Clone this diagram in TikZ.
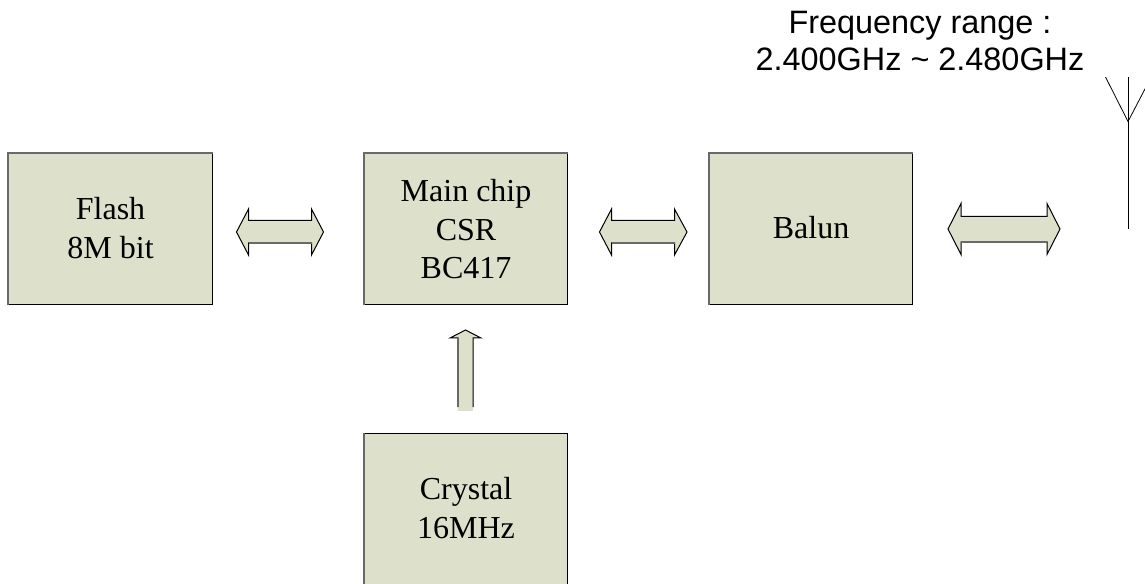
\documentclass[tikz,border=0pt]{standalone}
\usepackage{fontspec}
\setmainfont{Liberation Serif}
\newfontfamily\labelsans{Liberation Sans}
\definecolor{blockfill}{RGB}{221,224,203}
\definecolor{softedge}{RGB}{105,105,105}
\tikzset{
  px/.style={x=0.75pt,y=-0.75pt},
  block/.style={draw=black,line width=0.8pt,fill=blockfill,anchor=north west,inner sep=0pt,align=center,
    font=\fontsize{24}{29}\selectfont},
  lowtext/.style={execute at begin node={\rule{0pt}{18.4pt}}},
  hightext/.style={execute at end node={\rule[-2pt]{0pt}{0pt}}},
  bigarrow/.style={draw=black,line width=0.75pt,fill=blockfill,line join=miter},
  softline/.style={draw=softedge,line width=0.8pt},
  antenna/.style={draw=black,line width=0.6pt},
}
\begin{document}
\begin{tikzpicture}[px]
\useasboundingbox (0,0) rectangle (1145,584);
\clip (0,0) rectangle (1145,584);
\node[block,hightext,minimum width=153pt,minimum height=113.5pt] (flash) at (8,153) {Flash\\8M bit};
\node[block,lowtext,minimum width=152.25pt,minimum height=113.5pt] (main) at (364,153) {Main chip\\CSR\\BC417};
\node[block,hightext,minimum width=152.25pt,minimum height=113.5pt] (balun) at (709,153) {Balun};
\node[block,hightext,minimum width=152.25pt,minimum height=114pt] (crystal) at (364,433) {Crystal\\16MHz};
\foreach \b in {flash,main,balun}
  \draw[softline] (\b.south west) -- (\b.north west) -- (\b.north east);
\draw[softline] (crystal.south west) -- (crystal.north west);
% double arrows
\draw[bigarrow] (236.5,232) -- (248.5,209) -- (248.5,220.5) -- (311.5,220.5) -- (311.5,209) -- (323.5,232) -- (311.5,255) -- (311.5,243) -- (248.5,243) -- (248.5,255) -- cycle;
\draw[softline] (311.5,243) -- (248.5,243);
\draw[bigarrow] (599.5,232) -- (611.5,209) -- (611.5,220.5) -- (674.5,220.5) -- (674.5,209) -- (687,232) -- (674.5,255) -- (674.5,243) -- (611.5,243) -- (611.5,255) -- cycle;
\draw[softline] (674.5,243) -- (611.5,243);
\draw[bigarrow] (948,229) -- (961,203.5) -- (961,216.5) -- (1047,216.5) -- (1047,203.5) -- (1060,229) -- (1047,254.5) -- (1047,242) -- (961,242) -- (961,254.5) -- cycle;
\draw[softline] (1047,242) -- (961,242);
% up arrow
\fill[blockfill] (458,340) rectangle (473,411);
\draw[bigarrow] (458,407) -- (458,338) -- (450,338) -- (465.5,330) -- (481,338) -- (473,338) -- (473,407);
\draw[softline] (458,407) -- (458,338);
% antenna
\draw[antenna] (1128,229) -- (1128,77);
\draw[antenna] (1105.5,77) -- (1128,121.5) -- (1146,87);
\node[align=center,font=\labelsans\fontsize{24.3}{27.75}\selectfont] (freq) at (920,41) {Frequency range :\\2.400GHz \textasciitilde{} 2.480GHz};
\end{tikzpicture}
\end{document}
